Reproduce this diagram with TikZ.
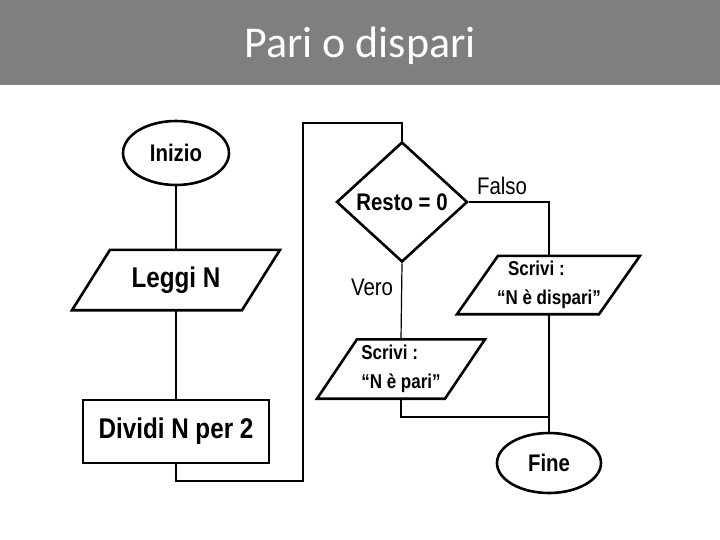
\documentclass[tikz,border=0pt]{standalone}
\usepackage{fontspec}
\setmainfont{Liberation Sans}
\newfontfamily\titlefont{Carlito}
\newfontfamily\narrowsans[FakeStretch=0.85]{Liberation Sans}
\usetikzlibrary{shapes.geometric,calc}
\definecolor{headgray}{HTML}{7F7F7F}
\newcommand\paragram[4]{\draw[shapeline] ($(#1.north)+(#3-#2,0)$) -- ($(#1.north)+(#3+#2,0)$) -- ($(#1.south)+(#4+#2,0)$) -- ($(#1.south)+(#4-#2,0)$) -- cycle;}
\tikzset{
  shapeline/.style={draw, line width=2.6pt, line join=miter},
  conn/.style={draw, line width=1.2pt},
  term/.style={ellipse, shapeline, inner sep=0pt},
  boxnode/.style={rectangle, shapeline, inner sep=0pt},
  plain/.style={inner sep=0pt},
  bfs/.style={font=\narrowsans\bfseries\fontsize{#1}{#1}\selectfont},
  lbl/.style={inner sep=0pt, font=\narrowsans\fontsize{24}{28}\selectfont},
  twoline/.style={plain, align=left, font=\narrowsans\bfseries\fontsize{20}{29}\selectfont},
}
\begin{document}
\begin{tikzpicture}[x=1pt,y=-1pt]
\useasboundingbox (0,0) rectangle (720,540);
\fill[headgray] (0,0) rectangle (720,85);
\node[font=\titlefont\fontsize{44}{52}\selectfont, text=white, anchor=base] (title) at (360,58) {Pari o dispari};

\node[term, minimum width=106pt, minimum height=64pt, bfs=24] (inizio) at (176,153) {Inizio};
\node[plain, minimum width=150pt, minimum height=60pt, bfs=28.5] (leggi) at (176,280) {Leggi N};
\node[boxnode, minimum width=186pt, minimum height=63pt, bfs=28.5] (dividi) at (176,431.5) {Dividi N per 2};
\node[diamond, shapeline, inner sep=0pt, aspect=1.09, minimum width=131pt, minimum height=120pt, bfs=24] (resto) at (402,202) {Resto = 0};
\node[twoline, minimum height=58pt] (dispari) at (549,285) {\hspace*{11pt}Scrivi :\\“N è dispari”};
\node[twoline, minimum height=59pt] (pari) at (401,369) {Scrivi :\\“N è pari”};
\node[term, minimum width=104pt, minimum height=60pt, bfs=24] (fine) at (549,463) {Fine};

\node[lbl] (falso) at (502,186) {Falso};
\node[lbl] (vero) at (372,287) {Vero};

\paragram{leggi}{85}{19}{-19}
\paragram{dispari}{71}{20}{-21}
\paragram{pari}{64}{20}{-20}

\coordinate (c1) at (303,481);
\coordinate (c2) at (303,123);
\coordinate (j) at (549,417);

\draw[conn] (inizio) -- (leggi.north);
\draw[conn] (leggi.south) -- (dividi);
\draw[conn] (dividi.south) |- (c1) -- (c2) -| (resto.north);
\draw[conn] (resto.east) -| (dispari.north);
\draw[conn] (resto.south) -- (pari.north);
\draw[conn] (dispari.south) -- (fine);
\draw[conn] (pari.south) |- (j);
\end{tikzpicture}
\end{document}
